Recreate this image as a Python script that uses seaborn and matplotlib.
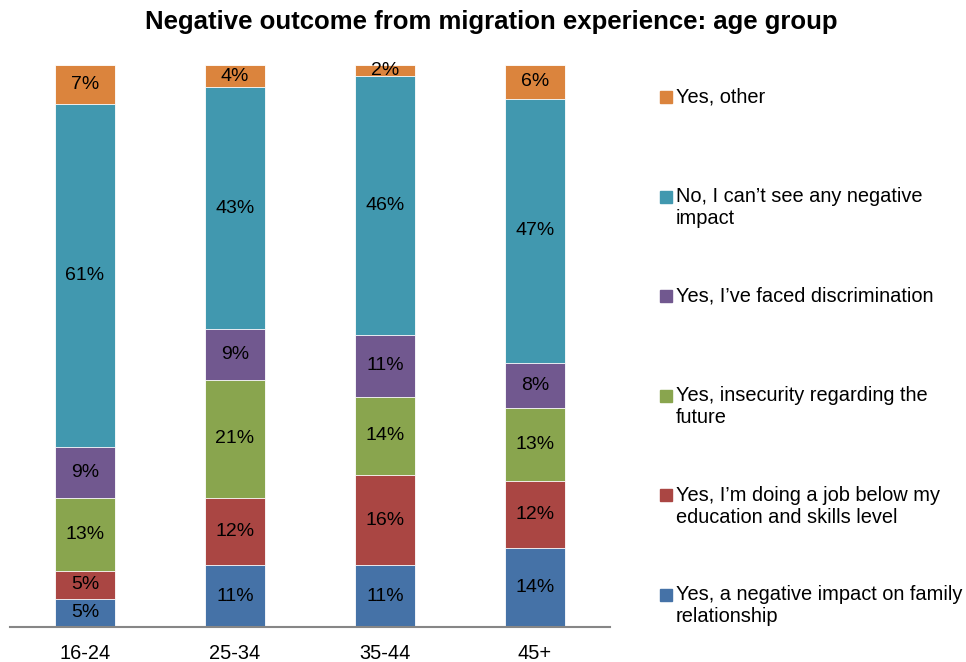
import matplotlib
matplotlib.use("Agg")
import matplotlib.pyplot as plt
import matplotlib.patches as mpatches
import numpy as np
import pandas as pd
import seaborn as sns

# Data (percent of respondents)
age_groups = ["16-24", "25-34", "35-44", "45+"]
series = [
    "Yes, a negative impact on family\nrelationship",
    "Yes, I\u2019m doing a job below my\neducation and skills level",
    "Yes, insecurity regarding the\nfuture",
    "Yes, I\u2019ve faced discrimination",
    "No, I can\u2019t see any negative\nimpact",
    "Yes, other",
]
family = [5, 11, 11, 14]
job_below = [5, 12, 16, 12]
insecurity = [13, 21, 14, 13]
discrimination = [9, 9, 11, 8]
no_impact = [61, 43, 46, 47]
other = [7, 4, 2, 6]
values = [family, job_below, insecurity, discrimination, no_impact, other]
colors = ["#4572A7", "#AA4643", "#89A54E", "#71588F", "#4198AF", "#DB843D"]

sns.set_style("white")
plt.rcParams["font.family"] = ["Liberation Sans", "DejaVu Sans"]
plt.rcParams["text.color"] = "black"
plt.rcParams["xtick.color"] = "black"

fig = plt.figure(figsize=(9.66, 6.62), dpi=100)
W, H = 966, 662
ax = fig.add_axes([10 / W, 35 / H, 600 / W, 562 / H])

df = pd.DataFrame(np.array(values).T, index=age_groups, columns=range(len(series)))
cum = df.cumsum(axis=1)

# draw from the top of the stack down so lower segments sit on top
for i in reversed(range(len(series))):
    sns.barplot(x=age_groups, y=cum[i].values, color=colors[i], saturation=1,
                width=0.4, edgecolor="white", linewidth=0.6, ax=ax)

for i in range(len(series)):
    for j, g in enumerate(age_groups):
        v = df.loc[g, i]
        ax.text(j, cum.loc[g, i] - v / 2, f"{v}%", ha="center", va="center",
                fontsize=14, color="black")

ax.set_xlim(-0.5, 3.5)
ax.set_ylim(0, 100)
ax.set_yticks([])
for s in ["left", "right", "top"]:
    ax.spines[s].set_visible(False)
ax.spines["bottom"].set_color("#868686")
ax.spines["bottom"].set_linewidth(1.5)
ax.tick_params(axis="x", length=0, pad=12, labelsize=14.4, labelcolor="black")

fig.text(491 / W, 1 - 22 / H, "Negative outcome from migration experience: age group",
         ha="center", va="center", fontsize=18.5, fontweight="bold", color="black")

# legend, top entry first (reverse of stack order)
for k, i in enumerate(reversed(range(len(series)))):
    yc = 97 + 99.6 * k
    fig.patches.append(mpatches.Rectangle((660 / W, 1 - (yc + 6) / H), 12 / W, 12 / H,
                                          transform=fig.transFigure, color=colors[i]))
    for n, line in enumerate(series[i].split("\n")):
        fig.text(676 / W, 1 - (yc + 22 * n) / H, line, ha="left", va="center",
                 fontsize=14.4, color="black")

fig.savefig("out.png", dpi=100)
